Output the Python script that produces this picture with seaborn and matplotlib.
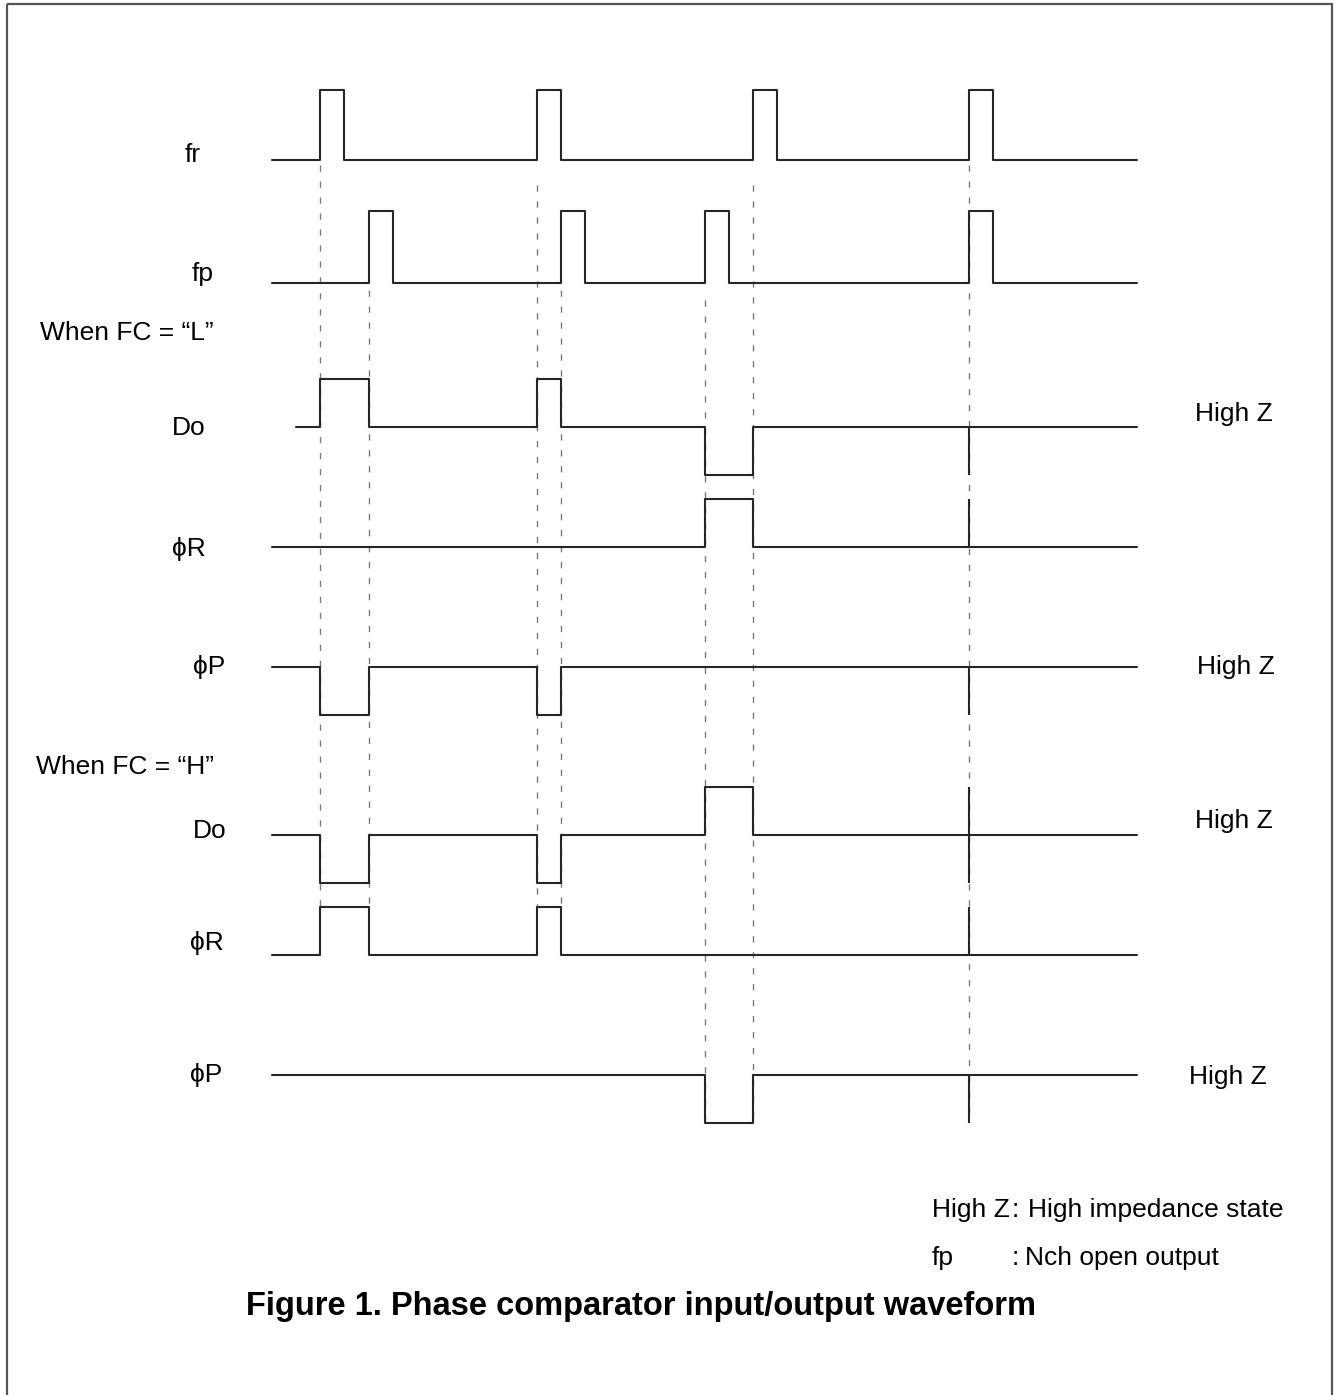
import numpy as np
import pandas as pd
import matplotlib
matplotlib.use("Agg")
import matplotlib.pyplot as plt
from matplotlib.patches import Rectangle
import seaborn as sns

sns.set_theme(style="white")
plt.rcParams["font.family"] = ["Liberation Sans", "DejaVu Sans"]
plt.rcParams["text.color"] = "black"

# ---------------- data (time axis in diagram units) ----------------
t_start = 272
t_end = 1137
do_l_start = 296

# pulses: (rise time, fall time, level)  level +1 = high, -1 = low
fr_pulses = [(320, 344, 1), (537, 561, 1), (753, 777, 1), (969, 993, 1)]
fp_pulses = [(369, 393, 1), (561, 585, 1), (705, 729, 1), (969, 993, 1)]
do_l_pulses = [(320, 369, 1), (537, 561, 1), (705, 753, -1)]
phr_l_pulses = [(705, 753, 1)]
php_l_pulses = [(320, 369, -1), (537, 561, -1)]
do_h_pulses = [(320, 369, -1), (537, 561, -1), (705, 753, 1)]
phr_h_pulses = [(320, 369, 1), (537, 561, 1)]
php_h_pulses = [(705, 753, -1)]

# coincident-edge glitch at t=969 on outputs: (low level, high level)
glitch_t = 969
glitch_span = {
    "Do_L": (-1, 0), "phR_L": (0, 1), "phP_L": (-1, 0),
    "Do_H": (-1, 1), "phR_H": (0, 1), "phP_H": (-1, 0),
}

signal_names = ["fr", "fp", "Do_L", "phR_L", "phP_L", "Do_H", "phR_H", "phP_H"]
signal_pulses = [fr_pulses, fp_pulses, do_l_pulses, phr_l_pulses, php_l_pulses,
                 do_h_pulses, phr_h_pulses, php_h_pulses]
signal_starts = [t_start, t_start, do_l_start, t_start, t_start, t_start, t_start, t_start]

labels = ["fr", "fp", "Do", "\u03d5R", "\u03d5P", "Do", "\u03d5R", "\u03d5P"]
highz_rows = ["Do_L", "phP_L", "Do_H", "phP_H"]

guide_times = [320, 369, 537, 561, 705, 753, 969]

# ---------------- layout ----------------
row_base = {"fr": 160, "fp": 283, "Do_L": 427, "phR_L": 547, "phP_L": 667,
            "Do_H": 835, "phR_H": 955, "phP_H": 1075}
row_amp = {"fr": 70, "fp": 72, "Do_L": 48, "phR_L": 48, "phP_L": 48,
           "Do_H": 48, "phR_H": 48, "phP_H": 48}
label_pos = {"fr": (185, 155), "fp": (192, 274), "Do_L": (172, 428), "phR_L": (172, 549),
             "phP_L": (193, 667), "Do_H": (193, 831), "phR_H": (190, 943), "phP_H": (190, 1075)}
highz_pos = {"Do_L": (1195, 414), "phP_L": (1197, 667), "Do_H": (1195, 821), "phP_H": (1189, 1077)}
guide_top = [165, 290, 185, 290, 300, 185, 165]
guide_bot = [907, 907, 907, 907, 1123, 1123, 1123]

FS = 19
LINE = "#262626"


def wave_points(start, end, pulses):
    t, lv = [start], [0]
    for a, b, l in pulses:
        t += [a, a, b, b]
        lv += [0, l, l, 0]
    t.append(end)
    lv.append(0)
    return t, lv


fig = plt.figure(figsize=(13.39, 13.95), dpi=100)
ax = fig.add_axes([0, 0, 1, 1])

# border
ax.add_patch(Rectangle((7, 4), 1325, 1400, fill=False, lw=1.6, edgecolor="#555555", zorder=1))

# dashed guides
ax.vlines(guide_times, guide_top, guide_bot, colors="#7a7a7a", lw=1.0,
          linestyles=(0, (4.5, 7)), zorder=2)

frames = []
for name, pulses, st in zip(signal_names, signal_pulses, signal_starts):
    t, lv = wave_points(st, t_end, pulses)
    y = [row_base[name] - row_amp[name] * l for l in lv]
    frames.append(pd.DataFrame({"t": t, "y": y, "signal": name}))
df = pd.concat(frames, ignore_index=True)

for name in signal_names:
    sub = df[df["signal"] == name]
    sns.lineplot(data=sub, x="t", y="y", sort=False, estimator=None, ax=ax,
                 color=LINE, lw=1.5, legend=False, zorder=3)

# glitches
for name, (lo, hi) in glitch_span.items():
    ax.vlines(glitch_t, row_base[name] - row_amp[name] * hi, row_base[name] - row_amp[name] * lo,
              colors=LINE, lw=1.5, zorder=3)

ax.set_xlim(0, 1339)
ax.set_ylim(1395, 0)
ax.axis("off")

# labels
for name, lab in zip(signal_names, labels):
    x, y = label_pos[name]
    ax.text(x, y, lab, fontsize=FS, ha="left", va="center", color="black")
for name in highz_rows:
    x, y = highz_pos[name]
    ax.text(x, y, "High Z", fontsize=FS, ha="left", va="center", color="black")

ax.text(40, 333, "When FC = \u201cL\u201d", fontsize=FS, ha="left", va="center", color="black")
ax.text(36, 767, "When FC = \u201cH\u201d", fontsize=FS, ha="left", va="center", color="black")

ax.text(932, 1210, "High Z", fontsize=FS, ha="left", va="center", color="black")
ax.text(1012, 1210, ":", fontsize=FS, ha="left", va="center", color="black")
ax.text(1028, 1210, "High impedance state", fontsize=FS, ha="left", va="center", color="black")
ax.text(932, 1258, "fp", fontsize=FS, ha="left", va="center", color="black")
ax.text(1012, 1258, ":", fontsize=FS, ha="left", va="center", color="black")
ax.text(1025, 1258, "Nch open output", fontsize=FS, ha="left", va="center", color="black")

ax.text(641, 1306, "Figure 1. Phase comparator input/output waveform", fontsize=23.5,
        fontweight="bold", ha="center", va="center", color="black")

fig.savefig("out.png", dpi=100)
